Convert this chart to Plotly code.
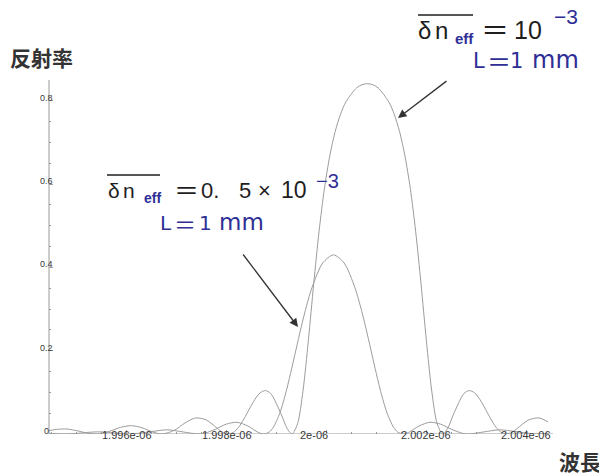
import plotly.graph_objects as go

# ---- data ----
# wavelength in nm, reflectivity
wl_main_nm = [1994.44, 1994.585, 1994.80, 1995.015, 1995.23, 1995.376, 1995.531, 1995.66, 1995.875, 1996.09,
              1996.305, 1996.52, 1996.709, 1996.95, 1997.165, 1997.38, 1997.595, 1997.81, 1997.9175, 1998.036,
              1998.1325, 1998.24, 1998.3475, 1998.455, 1998.5625, 1998.67, 1998.7775, 1998.885, 1999.10, 1999.2075,
              1999.31, 1999.4225, 1999.53, 1999.6375, 1999.745, 1999.8525, 1999.96, 2000.0675, 2000.175, 2000.2825,
              2000.39, 2000.605, 2000.7125, 2000.82, 2000.9275, 2001.035, 2001.25, 2001.3575, 2001.465, 2001.5725,
              2001.68, 2001.7875, 2001.895, 2002.0025, 2002.11, 2002.2175, 2002.33, 2002.4325, 2002.54, 2002.755,
              2002.8625, 2002.97, 2003.0775, 2003.185, 2003.2925, 2003.40, 2003.5075, 2003.604, 2003.7225, 2003.83,
              2004.045, 2004.26, 2004.44]
r_main = [0.008, 0.011, 0.012, 0.0075, 0.0016, 0.0, 0.002, 0.0067, 0.016, 0.020,
          0.015, 0.0047, 0.0, 0.0088, 0.0265, 0.0386, 0.0334, 0.0138, 0.0042, 0.0,
          0.0036, 0.0162, 0.0363, 0.060, 0.0825, 0.0986, 0.1043, 0.097, 0.0456, 0.0142,
          0.0, 0.0253, 0.1035, 0.2247, 0.3611, 0.487, 0.590, 0.668, 0.7262, 0.768,
          0.7974, 0.8312, 0.8387, 0.8412, 0.8387, 0.8312, 0.7974, 0.768, 0.7262, 0.668,
          0.590, 0.487, 0.3611, 0.2247, 0.1035, 0.0253, 0.0, 0.0142, 0.0456, 0.097,
          0.1043, 0.0986, 0.0825, 0.060, 0.0363, 0.0162, 0.0036, 0.0, 0.0042, 0.0138,
          0.0334, 0.0386, 0.0292]

wl_half_nm = [1994.44, 1994.726, 1994.98, 1995.195, 1995.41, 1995.625, 1995.84, 1996.072, 1996.485, 1996.8075,
              1997.13, 1997.418, 1997.56, 1997.775, 1997.99, 1998.205, 1998.42, 1998.635, 1998.748, 1998.85,
              1998.936, 1999.065, 1999.1725, 1999.28, 1999.3875, 1999.495, 1999.6025, 1999.71, 1999.925, 2000.14,
              2000.355, 2000.57, 2000.6775, 2000.785, 2000.8925, 2001.00, 2001.1075, 2001.215, 2001.344, 2001.43,
              2001.532, 2001.645, 2001.86, 2002.075, 2002.29, 2002.505, 2002.72, 2002.862, 2003.15, 2003.4725,
              2003.795, 2004.208, 2004.44]
r_half = [0.0014, 0.0, 0.0013, 0.0037, 0.0051, 0.0042, 0.0017, 0.0, 0.0057, 0.0101,
          0.0049, 0.0, 0.0018, 0.0114, 0.0235, 0.0282, 0.0195, 0.0037, 0.0, 0.0044,
          0.0162, 0.0502, 0.0929, 0.145, 0.2014, 0.2572, 0.3082, 0.3514, 0.4105, 0.4301,
          0.4105, 0.3514, 0.3082, 0.2572, 0.2014, 0.145, 0.0929, 0.0502, 0.0162, 0.0044,
          0.0, 0.0037, 0.0195, 0.0282, 0.0235, 0.0114, 0.0018, 0.0, 0.0049, 0.0101,
          0.0057, 0.0, 0.0017]

x_tick_vals = [1.996e-6, 1.998e-6, 2.0e-6, 2.002e-6, 2.004e-6]
x_tick_text = ["1.996e-06", "1.998e-06", "2e-06", "2.002e-06", "2.004e-06"]
y_tick_vals = [0, 0.2, 0.4, 0.6, 0.8]
y_tick_text = ["0", "0.2", "0.4", "0.6", "0.8"]

# ---- layout geometry (page pixels; the page body has an 8px margin) ----
OFF = 8
W, H = 607 - OFF, 475 - OFF
PX0, PX1, PY0, PY1 = 49, 548, 80, 434          # plot area in page pixels
L, R, T, B = PX0 - OFF, W - (PX1 - OFF), PY0 - OFF, H - (PY1 - OFF)
PW, PH = PX1 - PX0, PY1 - PY0
X_RANGE = [1994.44e-9, 2004.44e-9]
Y_RANGE = [0, 0.85]


def px(x):
    return (x - PX0) / PW


def py(y):
    return (PY1 - y) / PH


CURVE = "#9c9c9c"
AXIS = "#9a9a9a"
BLUE = "#2e2e96"
DARK = "#1e1e1e"
TXT = "Liberation Sans, Arial, sans-serif"
WIDE = "DejaVu Sans, sans-serif"
CJK = "Noto Sans CJK JP"

fig = go.Figure()
fig.add_trace(go.Scatter(x=[v * 1e-9 for v in wl_main_nm], y=r_main, mode="lines",
                         line=dict(color=CURVE, width=1, shape="spline", smoothing=0.8),
                         showlegend=False, hoverinfo="skip"))
fig.add_trace(go.Scatter(x=[v * 1e-9 for v in wl_half_nm], y=r_half, mode="lines",
                         line=dict(color=CURVE, width=1, shape="spline", smoothing=0.8),
                         showlegend=False, hoverinfo="skip"))

ann = []
# tick labels sitting on the axes
for v, t in zip(x_tick_vals, x_tick_text):
    ann.append(dict(x=v, y=0, xref="x", yref="y", text=t, showarrow=False,
                    xshift=(-12 if t == "2e-06" else 0), yshift=-1,
                    font=dict(family=TXT, size=11, color="#383838"),
                    xanchor="center", yanchor="middle"))
for v, t in zip(y_tick_vals, y_tick_text):
    ann.append(dict(x=px(46), y=v, xref="paper", yref="y", text=t, showarrow=False,
                    yshift=3,
                    font=dict(family=TXT, size=9, color="#383838"),
                    xanchor="center", yanchor="middle"))

# axis titles
ann.append(dict(x=px(41), y=py(57), xref="paper", yref="paper", text="<b>反射率</b>", showarrow=False,
                font=dict(family=CJK, size=21, color="#333333"), xanchor="center", yanchor="middle"))
ann.append(dict(x=px(580), y=py(461), xref="paper", yref="paper", text="<b>波長</b>", showarrow=False,
                font=dict(family=CJK, size=21, color="#333333"), xanchor="center", yanchor="middle"))


def txt(xc, baseline, s, size, color, family=TXT):
    """place a text piece centred at page x xc with its baseline at page y baseline"""
    ann.append(dict(x=px(xc), y=py(baseline - 0.33 * size), xref="paper", yref="paper", text=s,
                    showarrow=False, font=dict(family=family, size=size, color=color),
                    xanchor="center", yanchor="middle", borderpad=0))


# label A (top right)
txt(424, 38, "δ", 24, DARK)
txt(441.5, 38, "n", 24, DARK)
txt(464.5, 43, "<b>eff</b>", 15, BLUE)
txt(494.5, 38, "＝", 28, DARK, CJK)
txt(527.5, 38, "10", 25, DARK)
txt(566, 23, "−3", 21, BLUE)
txt(479, 68, "L", 21, BLUE, WIDE)
txt(498.5, 68, "＝", 24, BLUE, CJK)
txt(516.5, 68, "1", 21, BLUE, WIDE)
txt(555, 68, "mm", 24, BLUE, WIDE)

# label B (middle left)
txt(114, 197, "δ", 21, DARK)
txt(128.5, 197, "n", 21, DARK)
txt(152.5, 203, "<b>eff</b>", 14, BLUE)
txt(186, 197, "＝", 25, DARK, CJK)
txt(209.5, 198, "0.", 22, DARK)
txt(245, 198, "5", 22, DARK)
txt(264.5, 198, "×", 22, DARK)
txt(293.5, 198, "10", 23, DARK)
txt(327, 188, "−3", 20, BLUE)
txt(166, 230, "L", 20, BLUE, WIDE)
txt(185, 230, "＝", 22, BLUE, CJK)
txt(205, 230, "1", 20, BLUE, WIDE)
txt(241, 230, "mm", 23, BLUE, WIDE)


def arrow(x0, y0, x1, y1):
    ann.append(dict(x=px(x1), y=py(y1), xref="paper", yref="paper", ax=x0 - x1, ay=y0 - y1,
                    axref="pixel", ayref="pixel", text="", showarrow=True, arrowhead=2,
                    arrowsize=1.3, arrowwidth=1.3, arrowcolor="#333333"))


arrow(448, 80, 398, 118)
arrow(242, 253, 298, 327)

shapes = [
    dict(type="line", xref="paper", yref="paper", x0=px(418), x1=px(473), y0=py(15), y1=py(15),
         line=dict(color=DARK, width=1.3)),
    dict(type="line", xref="paper", yref="paper", x0=px(107), x1=px(160), y0=py(175), y1=py(175),
         line=dict(color=DARK, width=1.3)),
    dict(type="line", xref="paper", yref="y", x0=0, x1=1.01, y0=0, y1=0, line=dict(color=AXIS, width=1)),
    dict(type="line", xref="paper", yref="paper", x0=0, x1=0, y0=0, y1=1, line=dict(color=AXIS, width=1)),
]

fig.update_layout(
    width=W, height=H,
    margin=dict(l=L, r=R, t=T, b=B),
    paper_bgcolor="white", plot_bgcolor="white",
    annotations=ann, shapes=shapes,
    xaxis=dict(range=X_RANGE, showgrid=False, zeroline=False, showline=False,
               tickvals=x_tick_vals, showticklabels=False, ticks="inside", ticklen=4,
               tickcolor=AXIS, minor=dict(dtick=0.5e-9, tick0=1.996e-6, ticks="inside", ticklen=2, tickcolor=AXIS)),
    yaxis=dict(range=Y_RANGE, showgrid=False, zeroline=False, showline=False,
               tickvals=y_tick_vals, showticklabels=False, ticks="inside", ticklen=4,
               tickcolor=AXIS, minor=dict(dtick=0.05, tick0=0, ticks="inside", ticklen=2, tickcolor=AXIS)),
)

fig.write_html("out.html")
